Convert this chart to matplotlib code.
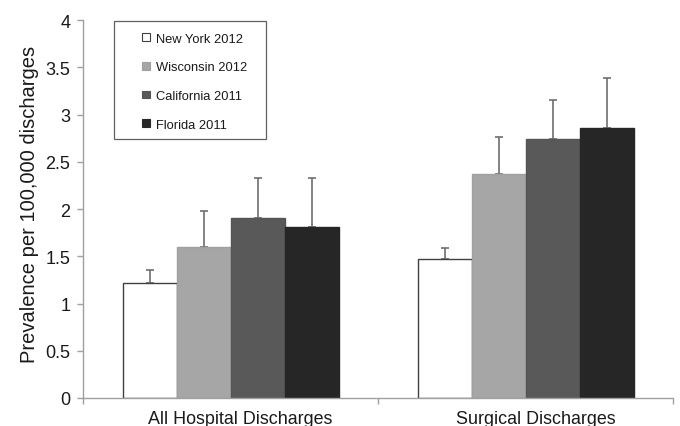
import matplotlib
matplotlib.use("Agg")
import matplotlib.pyplot as plt
import matplotlib.transforms as mtransforms
from matplotlib.patches import Rectangle
import numpy as np

plt.rcParams['font.family'] = ['Liberation Sans', 'DejaVu Sans']

categories = ["All Hospital Discharges", "Surgical Discharges"]
series = ["New York 2012", "Wisconsin 2012", "California 2011", "Florida 2011"]
values = {
    "New York 2012": [1.22, 1.47],
    "Wisconsin 2012": [1.60, 2.37],
    "California 2011": [1.91, 2.74],
    "Florida 2011": [1.81, 2.86],
}
err_top = {
    "New York 2012": [1.35, 1.59],
    "Wisconsin 2012": [1.98, 2.76],
    "California 2011": [2.33, 3.15],
    "Florida 2011": [2.33, 3.39],
}
colors = ["#ffffff", "#a6a6a6", "#595959", "#262626"]
edges = ["#404040", "#a0a0a0", "#555555", "#262626"]

fig = plt.figure(figsize=(6.8, 4.27), dpi=100)
ax = fig.add_axes([0.122, 0.0656, 0.868, 0.885])

x = np.arange(len(categories))
w = 0.183
for i, s in enumerate(series):
    pos = x + (i - 1.5) * w
    v = np.array(values[s])
    e = np.array(err_top[s]) - v
    ax.bar(pos, v, width=w, color=colors[i], edgecolor=edges[i], linewidth=1.0,
           label=s, zorder=2)
    ax.errorbar(pos, v, yerr=[np.zeros_like(e), e], fmt='none', ecolor="#6e6e6e",
                elinewidth=1.2, capsize=3, capthick=1.2, zorder=1)

ax.set_xlim(-0.5, 1.5)
ax.set_ylim(0, 4)
ax.set_yticks(np.arange(0, 4.01, 0.5))
ax.set_yticklabels(["0", "0.5", "1", "1.5", "2", "2.5", "3", "3.5", "4"])

# boundary ticks (major, no labels) and category labels (minor)
ax.set_xticks([-0.5, 0.5, 1.5])
ax.set_xticklabels([])
ax.set_xticks(x, minor=True)
ax.set_xticklabels(categories, minor=True)
ax.tick_params(axis='x', which='major', length=4, width=1, color="#a0a0a0", direction='out')
ax.tick_params(axis='x', which='minor', length=0, labelsize=12.9, pad=8.5, labelcolor="#1a1a1a")
offset = mtransforms.ScaledTranslation(10 / 100, 0, fig.dpi_scale_trans)
for lbl in ax.get_xticklabels(minor=True):
    lbl.set_transform(lbl.get_transform() + offset)

ax.tick_params(axis='y', length=4, width=1, color="#a0a0a0", labelsize=13, labelcolor="#1a1a1a", pad=5)
for sp in ["top", "right"]:
    ax.spines[sp].set_visible(False)
for sp in ["left", "bottom"]:
    ax.spines[sp].set_color("#a0a0a0")
    ax.spines[sp].set_linewidth(1)
ax.set_ylabel("Prevalence per 100,000 discharges", fontsize=14.5, color="#1a1a1a")
ax.yaxis.set_label_coords(-0.075, 0.514)

# legend frame drawn separately (asymmetric padding as in the reference)
frame = Rectangle((0.0525, 0.6854), 0.2576, 0.3122, transform=ax.transAxes,
                  facecolor="white", edgecolor="#606060", linewidth=0.9, zorder=3)
ax.add_patch(frame)
leg = ax.legend(loc="upper left", bbox_to_anchor=(0.1, 0.967), fontsize=9.3,
                frameon=False, handlelength=0.6, handleheight=0.55, labelspacing=1.3,
                borderpad=0, handletextpad=0.5, borderaxespad=0)
leg.set_zorder(4)
for h in leg.legend_handles:
    h.set_linewidth(0.8)
for t in leg.get_texts():
    t.set_color("#1a1a1a")

fig.savefig("out.png", dpi=100)
